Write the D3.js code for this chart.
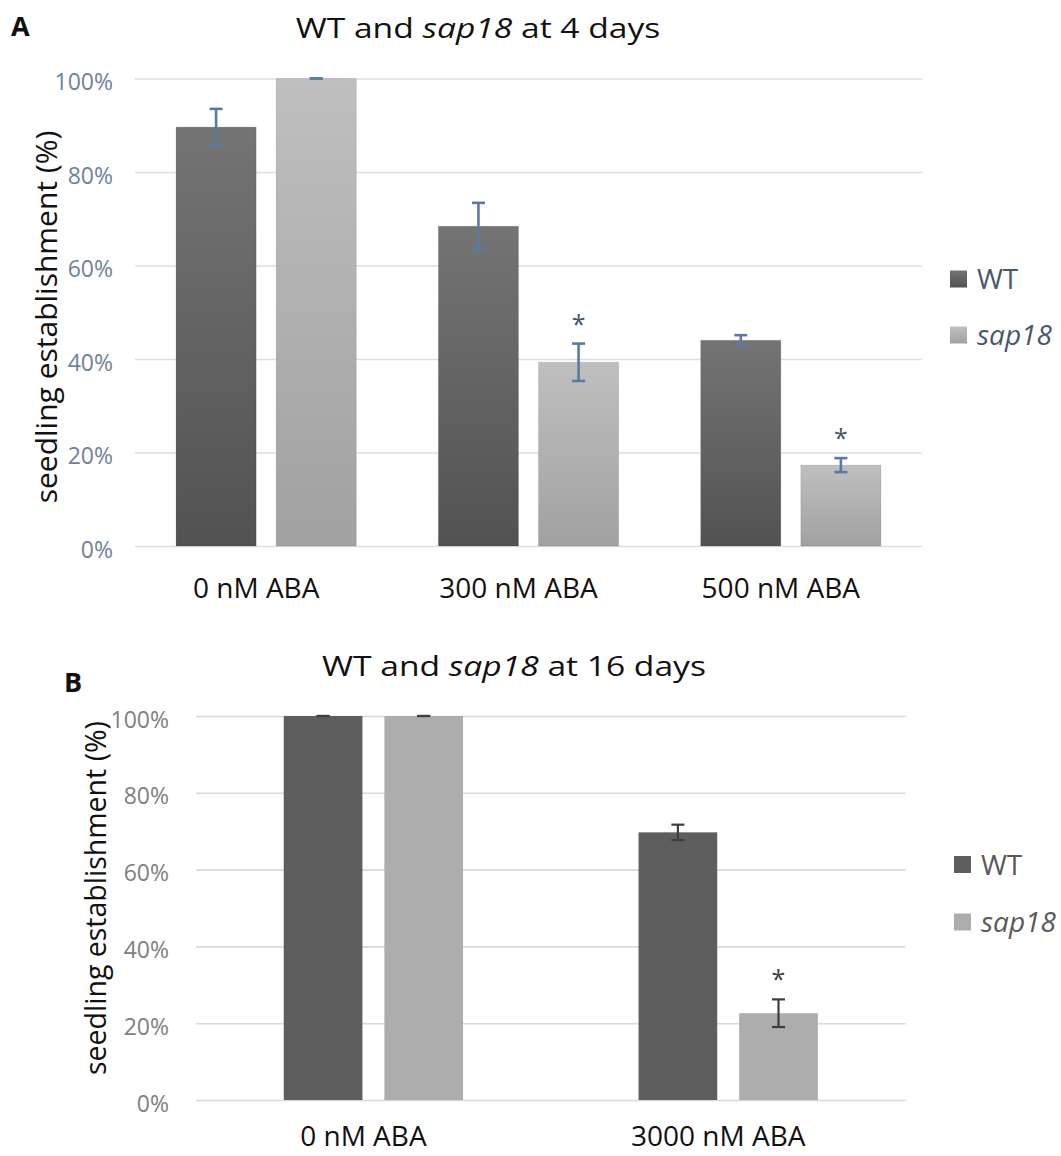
<!DOCTYPE html>
<html>
<head>
<meta charset="utf-8">
<script src="https://cdn.jsdelivr.net/npm/d3@7"></script>
<style>
  html, body { margin: 0; padding: 0; background: #fff; }
  svg { display: block; }
</style>
</head>
<body>
<svg id="fig" width="1061" height="1156"></svg>
<script>
// ---- Panel A: seedling establishment after 4 days (mean % and error) ----
const groupsA  = ["0 nM ABA", "300 nM ABA", "500 nM ABA"];
const wtA      = [89.6, 68.4, 44.0];
const wtErrA   = [3.9, 5.0, 1.1];
const sapA     = [100, 39.3, 17.3];
const sapErrA  = [0, 4.0, 1.5];
const sigA     = [false, true, true];   // asterisk above the sap18 bar

// ---- Panel B: seedling establishment after 16 days ----
const groupsB  = ["0 nM ABA", "3000 nM ABA"];
const wtB      = [100, 69.7];
const wtErrB   = [0, 2.0];
const sapB     = [100, 22.6];
const sapErrB  = [0, 3.6];
const sigB     = [false, true];

const seriesNames = ["WT", "sap18"];
const yTicks      = [0, 20, 40, 60, 80, 100];

const FONT = "'Open Sans', 'Noto Sans', sans-serif";

const svg = d3.select("#fig").attr("font-family", FONT);
const defs = svg.append("defs");

// vertical shading used on the panel A bars
function vGrad(id, top, bottom) {
  const g = defs.append("linearGradient").attr("id", id)
    .attr("x1", 0).attr("y1", 0).attr("x2", 0).attr("y2", 1);
  g.append("stop").attr("offset", "0%").attr("stop-color", top);
  g.append("stop").attr("offset", "100%").attr("stop-color", bottom);
}
vGrad("shade-wt", "#747474", "#525252");
vGrad("shade-sap", "#bfbfbf", "#a1a1a1");

function drawPanel(cfg) {
  const g = svg.append("g");

  const rows = cfg.groups.map((name, i) => ({
    name,
    bars: [
      { key: "WT",    v: cfg.wt[i],  e: cfg.wtErr[i],  sig: false },
      { key: "sap18", v: cfg.sap[i], e: cfg.sapErr[i], sig: cfg.sig[i] }
    ]
  }));

  const x0 = d3.scaleBand().domain(cfg.groups).range(cfg.xRange).padding(0);
  const x1 = d3.scaleBand().domain(seriesNames).range([0, x0.bandwidth()])
    .paddingInner(cfg.padInner).paddingOuter(cfg.padOuter);
  const y = d3.scaleLinear().domain([0, 100]).range(cfg.yRange);

  // gridlines + percentage labels
  const yAxis = d3.axisLeft(y).tickValues(yTicks).tickFormat(d => d + "%")
    .tickSize(-(cfg.xRange[1] - cfg.xRange[0])).tickPadding(cfg.tickPad);
  const gy = g.append("g").attr("transform", `translate(${cfg.xRange[0]},0)`).call(yAxis);
  gy.attr("font-family", FONT);
  gy.select(".domain").remove();
  gy.selectAll(".tick line").attr("stroke", cfg.gridColor).attr("stroke-width", 1.6);
  gy.selectAll(".tick text").attr("fill", cfg.tickColor)
    .attr("font-size", cfg.tickSize).attr("dy", "0.48em");

  // category labels
  const xAxis = d3.axisBottom(x0).tickSize(0).tickPadding(0);
  const gx = g.append("g").attr("transform", `translate(${cfg.xLabelDx},${cfg.xLabelY})`).call(xAxis);
  gx.attr("font-family", FONT);
  gx.select(".domain").remove();
  gx.selectAll(".tick text").attr("y", 0).attr("dy", 0)
    .attr("fill", "#111").attr("font-size", 28);

  // bars
  const grp = g.selectAll(".grp").data(rows).join("g")
    .attr("class", "grp")
    .attr("transform", d => `translate(${x0(d.name)},0)`);

  grp.selectAll("rect").data(d => d.bars).join("rect")
    .attr("x", d => x1(d.key))
    .attr("width", x1.bandwidth())
    .attr("y", d => y(d.v))
    .attr("height", d => y(0) - y(d.v))
    .attr("fill", d => cfg.fill[d.key])
    .attr("stroke", cfg.barStroke)
    .attr("stroke-width", 1);

  // error bars
  const cap = 6.5;
  const eb = grp.selectAll(".err").data(d => d.bars).join("g").attr("class", "err")
    .attr("stroke", cfg.errColor).attr("stroke-width", cfg.errWidth).attr("fill", "none");
  eb.append("line")
    .attr("x1", d => x1(d.key) + x1.bandwidth() / 2)
    .attr("x2", d => x1(d.key) + x1.bandwidth() / 2)
    .attr("y1", d => y(d.v + d.e)).attr("y2", d => y(d.v - d.e));
  eb.append("line")
    .attr("x1", d => x1(d.key) + x1.bandwidth() / 2 - cap)
    .attr("x2", d => x1(d.key) + x1.bandwidth() / 2 + cap)
    .attr("y1", d => y(d.v + d.e)).attr("y2", d => y(d.v + d.e));
  eb.append("line")
    .attr("x1", d => x1(d.key) + x1.bandwidth() / 2 - cap)
    .attr("x2", d => x1(d.key) + x1.bandwidth() / 2 + cap)
    .attr("y1", d => y(d.v - d.e)).attr("y2", d => y(d.v - d.e));

  // significance marks
  grp.selectAll(".sig").data(d => d.bars.filter(b => b.sig)).join("text")
    .attr("class", "sig")
    .attr("x", d => x1(d.key) + x1.bandwidth() / 2)
    .attr("y", d => y(d.v + d.e) - 11)
    .attr("text-anchor", "middle")
    .attr("font-size", 25)
    .attr("fill", cfg.starColor)
    .text("*");

  // title with italic gene name
  const title = g.append("text")
    .attr("transform", `translate(${cfg.titleX},${cfg.titleY}) scale(1.2,1)`)
    .attr("text-anchor", "middle").attr("font-size", 28).attr("fill", "#111");
  title.append("tspan").text("WT and ");
  title.append("tspan").attr("font-style", "italic").text("sap18");
  title.append("tspan").text(cfg.titleTail);

  // panel letter
  g.append("text").attr("x", cfg.letterX).attr("y", cfg.letterY)
    .attr("font-size", 27).attr("font-weight", "bold").attr("fill", "#111")
    .text(cfg.letter);

  // y-axis title
  g.append("text")
    .attr("transform", `translate(${cfg.yLabelX},${cfg.yLabelY}) rotate(-90)`)
    .attr("text-anchor", "middle").attr("font-size", cfg.yLabelSize).attr("fill", "#111")
    .text("seedling establishment (%)");

  // legend
  const lg = g.append("g").attr("transform", `translate(${cfg.legendX},${cfg.legendY})`);
  const item = lg.selectAll(".item").data(seriesNames).join("g")
    .attr("class", "item")
    .attr("transform", (d, i) => `translate(0,${i * cfg.legendStep})`);
  item.append("rect").attr("x", 0).attr("y", -8.5).attr("width", 17).attr("height", 17)
    .attr("fill", d => cfg.fill[d]);
  item.append("text").attr("x", 27).attr("y", 10)
    .attr("font-size", 28).attr("fill", cfg.legendColor)
    .attr("font-style", d => d === "sap18" ? "italic" : "normal")
    .text(d => d);
}

drawPanel({
  groups: groupsA, wt: wtA, wtErr: wtErrA, sap: sapA, sapErr: sapErrA, sig: sigA,
  xRange: [135, 922], yRange: [546, 78.5], padInner: 0.2, padOuter: 0.41,
  fill: { "WT": "url(#shade-wt)", "sap18": "url(#shade-sap)" },
  barStroke: "rgba(0,0,0,0.10)",
  gridColor: "#d9dee8", tickColor: "#6f819c", tickSize: 23, tickPad: 22,
  errColor: "#5a7aa4", errWidth: 2.6, starColor: "#44546a",
  xLabelY: 598, xLabelDx: -10,
  titleX: 478, titleY: 38, titleTail: " at 4 days",
  letter: "A", letterX: 11, letterY: 36,
  yLabelX: 57, yLabelY: 317, yLabelSize: 30,
  legendX: 950, legendY: 279, legendStep: 56, legendColor: "#4a566c"
});

drawPanel({
  groups: groupsB, wt: wtB, wtErr: wtErrB, sap: sapB, sapErr: sapErrB, sig: sigB,
  xRange: [196, 905.6], yRange: [1100, 716], padInner: 0.218, padOuter: 0.872,
  fill: { "WT": "#5e5e5e", "sap18": "#adadad" },
  barStroke: "none",
  gridColor: "#d9d9d9", tickColor: "#808080", tickSize: 23, tickPad: 27,
  errColor: "#3d3d3d", errWidth: 2.2, starColor: "#404040",
  xLabelY: 1146, xLabelDx: -10,
  titleX: 514, titleY: 676, titleTail: " at 16 days",
  letter: "B", letterX: 64, letterY: 692,
  yLabelX: 106, yLabelY: 898, yLabelSize: 28.5,
  legendX: 954, legendY: 864.5, legendStep: 57.5, legendColor: "#595959"
});
</script>
</body>
</html>
